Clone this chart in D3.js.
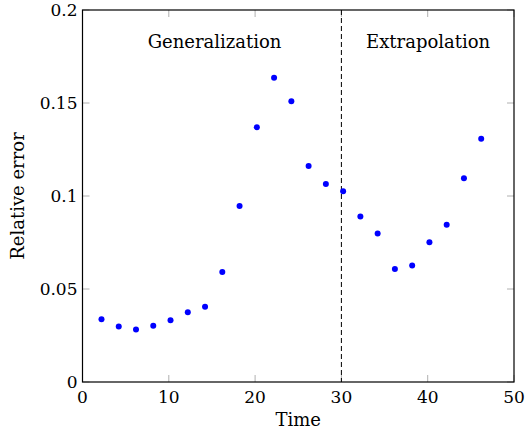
<!DOCTYPE html>
<html>
<head>
<meta charset="utf-8">
<script src="https://cdn.jsdelivr.net/npm/d3@7"></script>
<style>
  body { margin: 0; background: #fff; }
</style>
</head>
<body>
<div id="chart"></div>
<script>
var times = [2.2, 4.2, 6.2, 8.2, 10.2, 12.2, 14.2, 16.2, 18.2, 20.2, 22.2, 24.2,
             26.2, 28.2, 30.2, 32.2, 34.2, 36.2, 38.2, 40.2, 42.2, 44.2, 46.2];
var errors = [0.0338, 0.0298, 0.0282, 0.0303, 0.0332, 0.0375, 0.0405, 0.0591, 0.0946, 0.137, 0.1636, 0.1509,
              0.1161, 0.1064, 0.1025, 0.0890, 0.0798, 0.0607, 0.0627, 0.0752, 0.0845, 0.1096, 0.1308];
var xTicks = [0, 10, 20, 30, 40, 50];
var yTicks = [0, 0.05, 0.1, 0.15, 0.2];
var regions = [{label: "Generalization", x: 15.3}, {label: "Extrapolation", x: 40.05}];
var split = 30;

var width = 525, height = 430;
var margin = {top: 10, right: 11, bottom: 48, left: 82.5};
var font = "'DejaVu Serif', serif";
var fsTick = 17, fsLabel = 18;

var svg = d3.select("#chart").append("svg")
  .attr("width", width)
  .attr("height", height)
  .style("font-family", font);

var x = d3.scaleLinear().domain([0, 50]).range([margin.left, width - margin.right]);
var y = d3.scaleLinear().domain([0, 0.2]).range([height - margin.bottom, margin.top]);

var fmt = function(d) { return d === 0 ? "0" : String(d); };

// ticks, inside, mirrored on all sides
var tickLen = 7;
var ticks = svg.append("g").attr("stroke", "#b0b0b0").attr("stroke-width", 1);
xTicks.forEach(function(t) {
  ticks.append("line").attr("x1", x(t)).attr("x2", x(t)).attr("y1", y(0)).attr("y2", y(0) - tickLen);
  ticks.append("line").attr("x1", x(t)).attr("x2", x(t)).attr("y1", y(0.2)).attr("y2", y(0.2) + tickLen);
});
yTicks.forEach(function(t) {
  ticks.append("line").attr("x1", x(0)).attr("x2", x(0) + tickLen).attr("y1", y(t)).attr("y2", y(t));
  ticks.append("line").attr("x1", x(50)).attr("x2", x(50) - tickLen).attr("y1", y(t)).attr("y2", y(t));
});

// frame
svg.append("rect")
  .attr("x", x(0)).attr("y", y(0.2))
  .attr("width", x(50) - x(0)).attr("height", y(0) - y(0.2))
  .attr("fill", "none").attr("stroke", "#000").attr("stroke-width", 1.2);

// tick labels
svg.append("g").selectAll("text")
  .data(xTicks).enter().append("text")
  .attr("x", function(d) { return x(d); })
  .attr("y", y(0) + 21)
  .attr("text-anchor", "middle")
  .style("font-size", fsTick + "px")
  .text(fmt);

svg.append("g").selectAll("text")
  .data(yTicks).enter().append("text")
  .attr("x", x(0) - 5)
  .attr("y", function(d) { return y(d) + 6; })
  .attr("text-anchor", "end")
  .style("font-size", fsTick + "px")
  .text(fmt);

// axis labels
svg.append("text")
  .attr("x", (x(0) + x(50)) / 2)
  .attr("y", height - 4)
  .attr("text-anchor", "middle")
  .style("font-size", fsLabel + "px")
  .text("Time");

svg.append("text")
  .attr("transform", "translate(24," + (y(0.1)) + ") rotate(-90)")
  .attr("text-anchor", "middle")
  .style("font-size", fsLabel + "px")
  .text("Relative error");

// split line
svg.append("line")
  .attr("x1", x(split)).attr("x2", x(split))
  .attr("y1", y(0.2)).attr("y2", y(0))
  .attr("stroke", "#000").attr("stroke-width", 1)
  .attr("stroke-dasharray", "5,3");

// region labels
svg.append("g").selectAll("text")
  .data(regions).enter().append("text")
  .attr("x", function(d) { return x(d.x); })
  .attr("y", 48)
  .attr("text-anchor", "middle")
  .style("font-size", fsLabel + "px")
  .text(function(d) { return d.label; });

// points
svg.append("g").selectAll("circle")
  .data(times).enter().append("circle")
  .attr("cx", function(d) { return x(d); })
  .attr("cy", function(d, i) { return y(errors[i]); })
  .attr("r", 3)
  .attr("fill", "#0000ff");
</script>
</body>
</html>
